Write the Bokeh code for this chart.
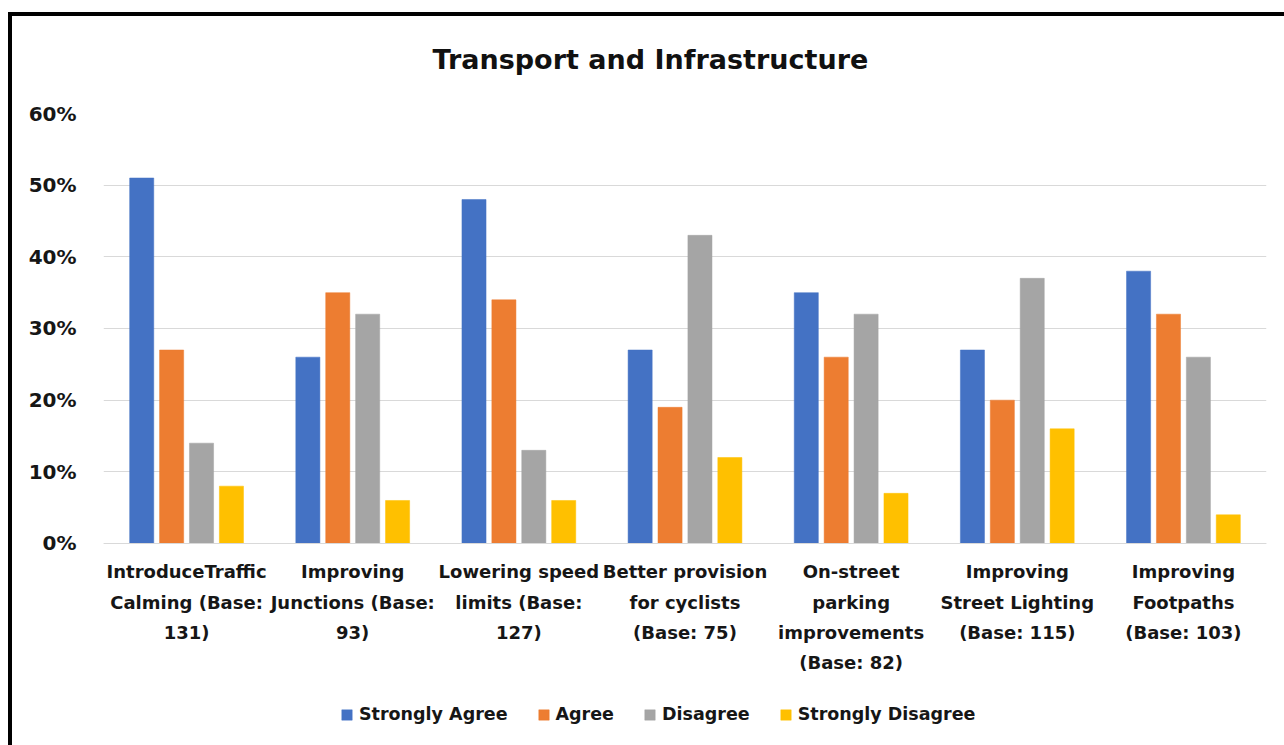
from bokeh.plotting import figure
from bokeh.models import ColumnDataSource, FactorRange, Legend, LegendItem, NumeralTickFormatter
from bokeh.transform import dodge
from bokeh.embed import file_html
from bokeh.resources import INLINE

categories = [
    "IntroduceTraffic\nCalming (Base:\n131)",
    "Improving\nJunctions (Base:\n93)",
    "Lowering speed\nlimits (Base:\n127)",
    "Better provision\nfor cyclists\n(Base: 75)",
    "On-street\nparking\nimprovements\n(Base: 82)",
    "Improving\nStreet Lighting\n(Base: 115)",
    "Improving\nFootpaths\n(Base: 103)",
]
strongly_agree = [0.51, 0.26, 0.48, 0.27, 0.35, 0.27, 0.38]
agree = [0.27, 0.35, 0.34, 0.19, 0.26, 0.20, 0.32]
disagree = [0.14, 0.32, 0.13, 0.43, 0.32, 0.37, 0.26]
strongly_disagree = [0.08, 0.06, 0.06, 0.12, 0.07, 0.16, 0.04]
y_ticks = [0, 0.1, 0.2, 0.3, 0.4, 0.5, 0.6]

series_names = ["Strongly Agree", "Agree", "Disagree", "Strongly Disagree"]
series_keys = ["sa", "a", "d", "sd"]
colors = ["#4472C4", "#ED7D31", "#A5A5A5", "#FFC000"]
offsets = [-0.27, -0.09, 0.09, 0.27]

source = ColumnDataSource(dict(
    cat=categories, sa=strongly_agree, a=agree, d=disagree, sd=strongly_disagree,
))

FONT = "DejaVu Sans"
TEXT = "#161616"

# The frame runs down to the bottom edge; the space under 0% holds the
# category labels (x axis pinned at 0) and the legend.
p = figure(
    x_range=FactorRange(*categories, range_padding=0.0),
    y_range=(-0.2819, 0.6),
    frame_width=1163, frame_height=632,
    output_backend="svg", toolbar_location=None,
    min_border_left=103, min_border_right=18, min_border_top=113,
    min_border_bottom=0,
    title="Transport and Infrastructure",
)
# chart frame: heavy black rule along the left and top edges, painted
# behind the (transparent) border area of the canvas
p.styles = {
    "background-color": "#ffffff",
    "box-shadow": "inset 8px 12px 0 0 #ffffff, inset 12px 16px 0 0 #000000",
}
p.border_fill_color = None

p.title.align = "left"
p.title.offset = 329
p.title.standoff = 78
p.title.text_font = FONT
p.title.text_font_size = "27px"
p.title.text_font_style = "bold"
p.title.text_color = "#111111"

items = []
for key, name, col, off in zip(series_keys, series_names, colors, offsets):
    r = p.vbar(x=dodge("cat", off, range=p.x_range), top=key, width=0.145,
               source=source, fill_color=col, line_color=col, line_width=0.5)
    items.append(LegendItem(label=name, renderers=[r]))

p.outline_line_color = None
p.background_fill_color = "white"

p.xgrid.grid_line_color = None
p.ygrid.ticker = y_ticks
p.ygrid.grid_line_color = "#D9D9D9"
p.ygrid.grid_line_width = 1

p.yaxis.formatter = NumeralTickFormatter(format="0%")
p.yaxis.ticker = y_ticks
p.yaxis.axis_line_color = None
p.yaxis.major_tick_line_color = None
p.yaxis.minor_tick_line_color = None
p.yaxis.major_label_text_font = FONT
p.yaxis.major_label_text_font_size = "20px"
p.yaxis.major_label_text_font_style = "bold"
p.yaxis.major_label_text_color = TEXT
p.yaxis.major_label_standoff = 21

p.xaxis.fixed_location = 0
p.xaxis.axis_line_color = "#D9D9D9"
p.xaxis.major_tick_line_color = None
p.xaxis.minor_tick_line_color = None
p.xaxis.major_label_text_font = FONT
p.xaxis.major_label_text_font_size = "18px"
p.xaxis.major_label_text_font_style = "bold"
p.xaxis.major_label_text_color = TEXT
p.xaxis.major_label_text_line_height = 1.43
p.xaxis.major_label_standoff = 12

# legend anchored from the frame's bottom-left corner
legend = Legend(items=items, orientation="horizontal", location=(237, 21))
legend.label_text_font = FONT
legend.label_text_font_size = "17.5px"
legend.label_text_font_style = "bold"
legend.label_text_color = TEXT
legend.glyph_width = 13
legend.glyph_height = 13
legend.label_standoff = 6
legend.spacing = 29
legend.border_line_color = None
legend.background_fill_alpha = 0
legend.margin = 0
legend.padding = 0
p.add_layout(legend)

open("out.html", "w").write(file_html(p, INLINE))
